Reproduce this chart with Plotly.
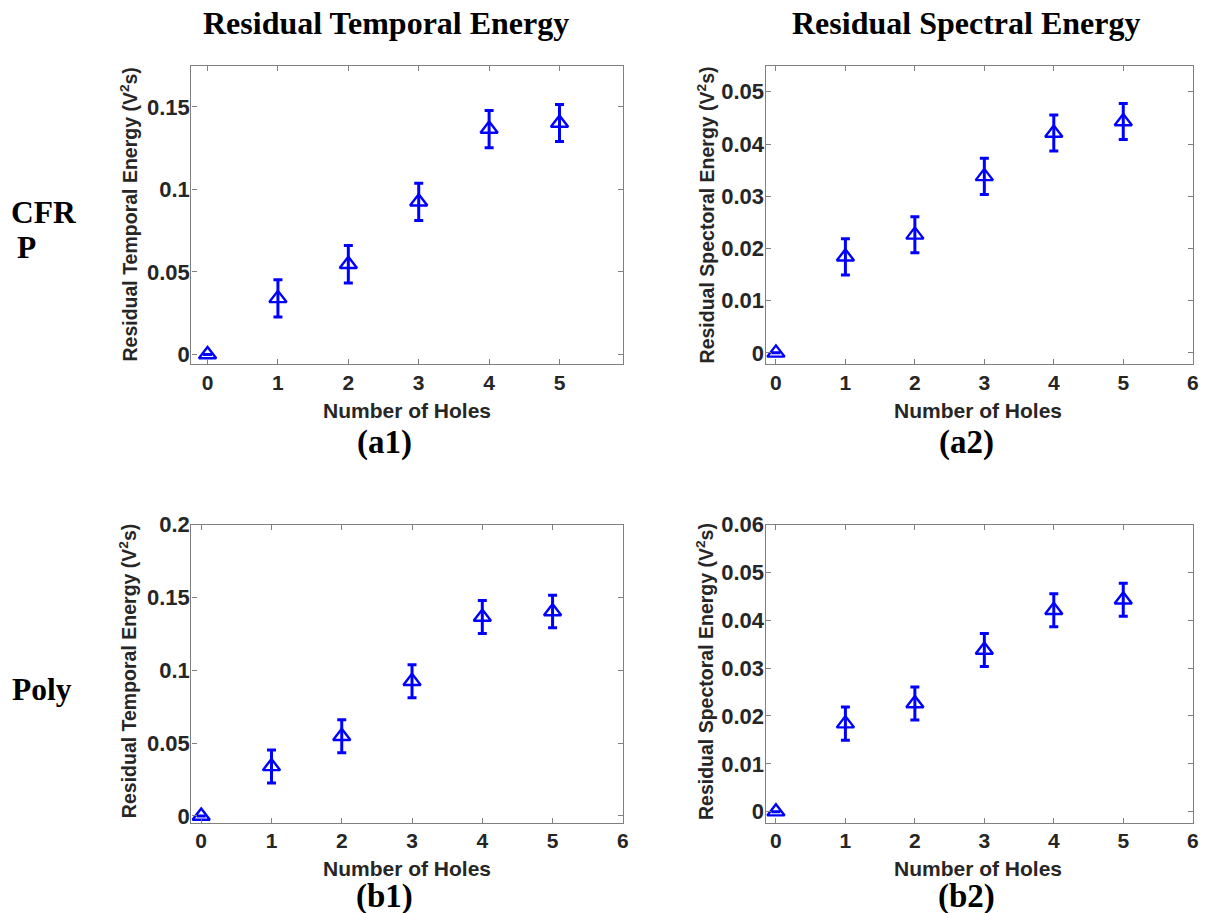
import plotly.graph_objects as go

# ---------------- data ----------------
holes = [0, 1, 2, 3, 4, 5]
temporal_energy = [0.0, 0.034, 0.0547, 0.0925, 0.1366, 0.1403]
temporal_err = [0.0, 0.0113, 0.0114, 0.0113, 0.0113, 0.0112]
spectral_energy = [0.0, 0.0184, 0.0226, 0.0338, 0.0421, 0.0443]
spectral_err = [0.0, 0.00347, 0.00345, 0.00345, 0.00345, 0.00345]

x_ticks_a1 = [0, 1, 2, 3, 4, 5]
x_ticks_other = [0, 1, 2, 3, 4, 5, 6]
y_ticks_a1 = [0, 0.05, 0.1, 0.15]
y_labels_a1 = ["0", "0.05", "0.1", "0.15"]
y_ticks_b1 = [0, 0.05, 0.1, 0.15, 0.2]
y_labels_b1 = ["0", "0.05", "0.1", "0.15", "0.2"]
y_ticks_a2 = [0, 0.01, 0.02, 0.03, 0.04, 0.05]
y_labels_a2 = ["0", "0.01", "0.02", "0.03", "0.04", "0.05"]
y_ticks_b2 = [0, 0.01, 0.02, 0.03, 0.04, 0.05, 0.06]
y_labels_b2 = ["0", "0.01", "0.02", "0.03", "0.04", "0.05", "0.06"]

col_titles = ["Residual Temporal Energy", "Residual Spectral Energy"]
row_titles = ["CFR", "P", "Poly"]
panel_tags = ["(a1)", "(a2)", "(b1)", "(b2)"]
xlabel = "Number of Holes"
ylabel_t = "Residual Temporal Energy (V<sup>2</sup>s)"
ylabel_s = "Residual Spectoral Energy (V<sup>2</sup>s)"

W, H = 1217, 913
# small calibration of target pixel positions to paper coordinates
SX, OX = 0.9953, -0.7
SY, OY = 0.979, 11.4
def px(x):
    return ((x - OX) / SX) / W
def py(y):
    return 1 - ((y - OY) / SY) / H

BLUE = "rgb(0,0,255)"
GRAY = "#808080"
TXT = "#262626"
SANS = "Liberation Sans"
SERIF = "Liberation Serif"

fig = go.Figure()

panels = [
    ("a1", "x", "y", temporal_energy, temporal_err, (190.7, 622.3), (65, 363.3),
     [-0.23, 5.9], [-0.006, 0.175], x_ticks_a1, y_ticks_a1, y_labels_a1),
    ("a2", "x2", "y2", spectral_energy, spectral_err, (765, 1192.3), (65, 363.3),
     [-0.15, 6], [-0.0022, 0.055], x_ticks_other, y_ticks_a2, y_labels_a2),
    ("b1", "x3", "y3", temporal_energy, temporal_err, (190.7, 622.3), (523.3, 821),
     [-0.14, 6], [-0.0046, 0.2], x_ticks_other, y_ticks_b1, y_labels_b1),
    ("b2", "x4", "y4", spectral_energy, spectral_err, (765, 1192.3), (523.3, 821),
     [-0.15, 6], [-0.0023, 0.06], x_ticks_other, y_ticks_b2, y_labels_b2),
]

layout = {}
for i, (name, xa, ya, yv, ev, xd, yd, xr, yr, xt, yt, yl) in enumerate(panels):
    fig.add_trace(go.Scatter(
        x=holes, y=yv, xaxis=xa, yaxis=ya, mode="markers",
        marker=dict(symbol="triangle-up-open", size=15, color=BLUE,
                    line=dict(color=BLUE, width=2.4)),
        error_y=dict(type="data", array=ev, visible=True, color=BLUE,
                     thickness=3, width=4.5),
        showlegend=False,
    ))
    xkey = "xaxis" if i == 0 else f"xaxis{i+1}"
    ykey = "yaxis" if i == 0 else f"yaxis{i+1}"
    layout[xkey] = dict(
        domain=[px(xd[0]), px(xd[1])], range=xr, anchor=ya,
        tickvals=xt, ticktext=[str(v) for v in xt],
        ticks="inside", ticklen=5, tickwidth=1, tickcolor=GRAY,
        showline=True, linecolor=GRAY, linewidth=1.3, mirror="allticks",
        showgrid=False, zeroline=False, ticklabelstandoff=-1,
        tickfont=dict(family=SANS, size=21, color=TXT, weight="bold"),
    )
    layout[ykey] = dict(
        domain=[py(yd[1]), py(yd[0])], range=yr, anchor=xa,
        tickvals=yt, ticktext=yl,
        ticks="inside", ticklen=5, tickwidth=1, tickcolor=GRAY,
        showline=True, linecolor=GRAY, linewidth=1.3, mirror="allticks",
        showgrid=False, zeroline=False, ticklabelstandoff=-4,
        tickfont=dict(family=SANS, size=22, color=TXT, weight="bold"),
    )

ann = []
def add_text(text, x, y, size, family, xanchor="center", yanchor="middle", angle=0, color="black"):
    ann.append(dict(text=text, x=px(x), y=py(y), xref="paper", yref="paper",
                    showarrow=False, xanchor=xanchor, yanchor=yanchor, textangle=angle,
                    font=dict(family=family, size=size, color=color, weight="bold")))

# column titles
add_text(col_titles[0], 385, 22, 32, SERIF)
add_text(col_titles[1], 966, 22, 32, SERIF)
# row titles
add_text(row_titles[0], 8, 212, 31.5, SERIF, xanchor="left")
add_text(row_titles[1], 14, 247, 31.5, SERIF, xanchor="left")
add_text(row_titles[2], 9, 688, 31.5, SERIF, xanchor="left")
# panel tags
add_text(panel_tags[0], 384, 441, 33, SERIF)
add_text(panel_tags[1], 966, 441, 33, SERIF)
add_text(panel_tags[2], 384, 895, 33, SERIF)
add_text(panel_tags[3], 966, 895, 33, SERIF)
# x-axis titles
add_text(xlabel, 406, 409, 21, SANS, color=TXT)
add_text(xlabel, 978, 409, 21, SANS, color=TXT)
add_text(xlabel, 406, 867, 21, SANS, color=TXT)
add_text(xlabel, 978, 867, 21, SANS, color=TXT)
# y-axis titles
add_text(ylabel_t, 128, 214, 19.5, SANS, angle=-90, color=TXT)
add_text(ylabel_s, 705, 214, 19.5, SANS, angle=-90, color=TXT)
add_text(ylabel_t, 128, 670, 19.5, SANS, angle=-90, color=TXT)
add_text(ylabel_s, 705, 670, 19.5, SANS, angle=-90, color=TXT)

fig.update_layout(
    width=W, height=H, margin=dict(l=0, r=0, t=0, b=0),
    paper_bgcolor="white", plot_bgcolor="white",
    annotations=ann, **layout,
)

fig.write_html(
    "out.html",
    config={"displayModeBar": False},
    post_script=(
        "document.documentElement.style.margin='0';"
        "document.body.style.margin='0';"
        "document.body.style.overflow='hidden';"
    ),
)
